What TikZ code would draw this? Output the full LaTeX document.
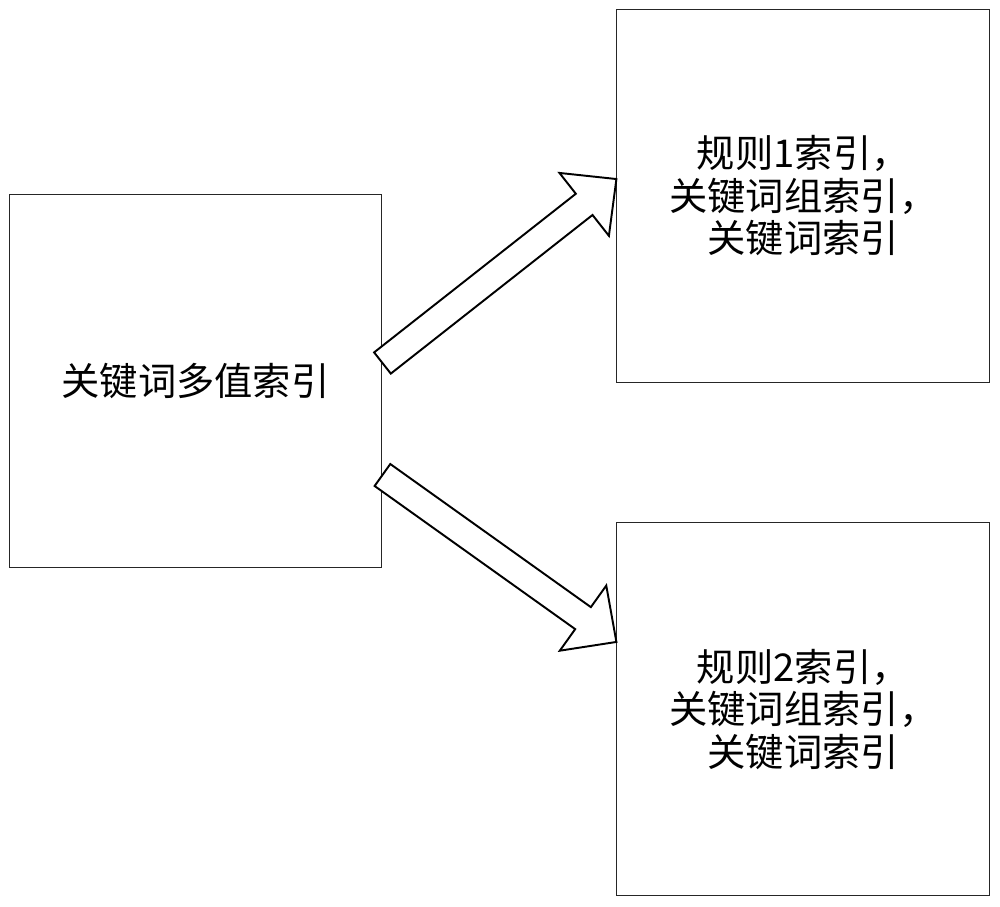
\documentclass[tikz,border=0pt]{standalone}
\usepackage{fontspec}
\newfontfamily\cjk{Noto Sans CJK SC}
\usetikzlibrary{positioning, calc}

\begin{document}
\begin{tikzpicture}[
        x=0.02cm, y=-0.02cm,
        idxbox/.style={draw=black!85, line width=0.55pt, minimum width=7.46cm, minimum height=7.46cm, align=center, inner sep=0pt, font=\cjk\fontsize{21.8}{24.2}\selectfont},
        hollow_arrow/.style={draw=black, fill=white, line width=1.1pt, line join=miter}
    ]
    \useasboundingbox (0,0) rectangle (1000,906);

    % --- Boxes ---
    \node[idxbox] (keyidx) at (195.5,381) {关键词多值索引};
    \node[idxbox, right=4.68cm of keyidx, yshift=3.71cm] (rule1) {规则1索引，\\关键词组索引，\\关键词索引};
    \node[idxbox, right=4.68cm of keyidx, yshift=-6.57cm] (rule2) {规则2索引，\\关键词组索引，\\关键词索引};

    % --- Arrow ends ---
    \coordinate (tail1) at ($(keyidx.east)+(0,-18)$);
    \coordinate (tip1) at ($(rule1.west)+(0,-16.5)$);
    \coordinate (tail2) at ($(keyidx.east)+(0,94)$);
    \coordinate (tip2) at ($(rule2.west)+(0,-67.5)$);

    % --- Hollow block arrows ---
    \foreach \t/\h in {tail1/tip1, tail2/tip2} {
        \coordinate (base) at ($(\h)!0.82cm!(\t)$);
        \draw[hollow_arrow] ($(\t)!0.27cm!90:(\h)$) -- ($(base)!0.27cm!90:(\h)$)
            -- ($(base)!0.8cm!90:(\h)$) -- (\h) -- ($(base)!0.8cm!-90:(\h)$)
            -- ($(base)!0.27cm!-90:(\h)$) -- ($(\t)!0.27cm!-90:(\h)$) -- cycle;
    }

\end{tikzpicture}
\end{document}
